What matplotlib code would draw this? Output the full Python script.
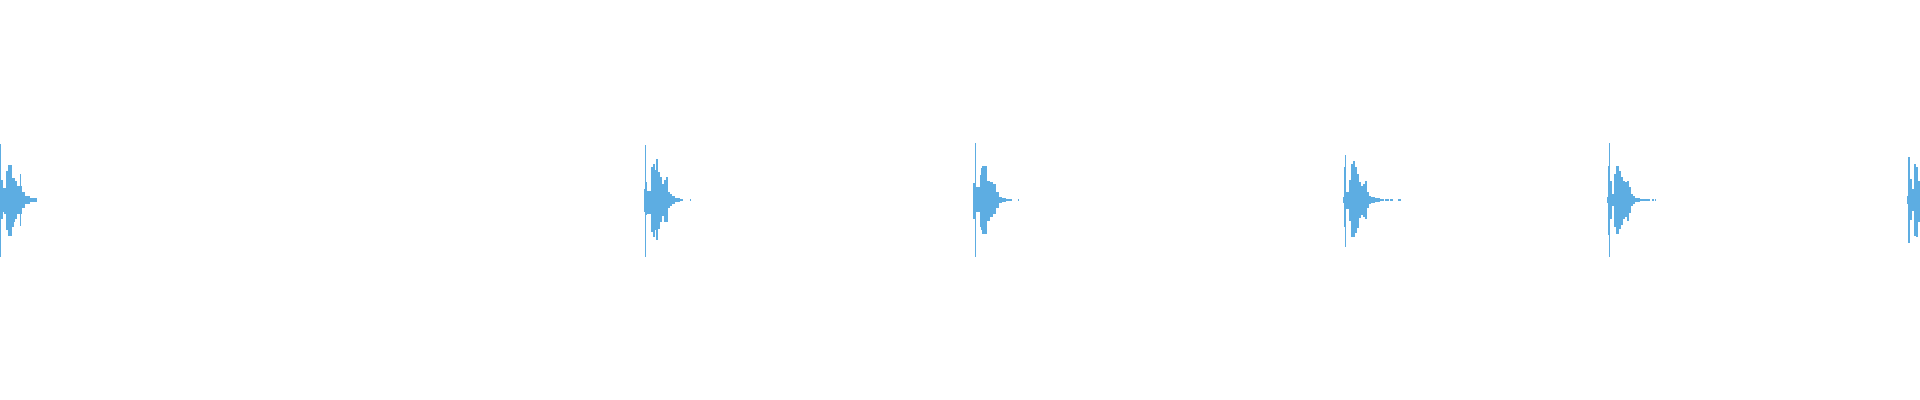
import numpy as np
import matplotlib
matplotlib.use('Agg')
import matplotlib.pyplot as plt

# waveform drawn as per-column envelope (amplitude, full scale = 1)
dt = 0.005          # seconds per column
duration = 9.6      # seconds shown

onsets = [0.000, 3.220, 4.865, 6.715, 8.035, 9.535]

b1_top = [0.28, 0.10, 0.10, 0.06, 0.06, 0.06, 0.145, 0.145, 0.175, 0.175, 0.175, 0.175,
          0.11, 0.11, 0.11, 0.095, 0.095, 0.07, 0.07, 0.07, 0.13, 0.07, 0.04, 0.04, 0.04,
          0.02, 0.02, 0.02, 0.02, 0.02, 0.008, 0.008, 0.008, 0.008, 0.008, 0.008, 0.008]
b1_bot = [0.285, 0.095, 0.095, 0.06, 0.07, 0.07, 0.15, 0.15, 0.18, 0.18, 0.18, 0.18,
          0.135, 0.135, 0.11, 0.095, 0.095, 0.07, 0.07, 0.07, 0.13, 0.07, 0.04, 0.04, 0.04,
          0.02, 0.02, 0.02, 0.02, 0.02, 0.008, 0.008, 0.008, 0.008, 0.008, 0.008, 0.008]

b2_top = [0.055, 0.275, 0.09, 0.045, 0.045, 0.045, 0.045, 0.165, 0.165, 0.18, 0.18, 0.15,
          0.205, 0.205, 0.14, 0.14, 0.115, 0.115, 0.08, 0.08, 0.10, 0.10, 0.115, 0.115,
          0.04, 0.04, 0.03, 0.03, 0.02, 0.02, 0.02, 0.01, 0.01, 0.01, 0.01, 0.01,
          0.005, 0.005, 0.005, 0, 0, 0, 0, 0, 0, 0, 0.005]
b2_bot = [0.06, 0.285, 0.075, 0.07, 0.07, 0.07, 0.07, 0.16, 0.16, 0.185, 0.185, 0.15,
          0.2, 0.2, 0.145, 0.145, 0.11, 0.11, 0.08, 0.08, 0.11, 0.11, 0.11, 0.11,
          0.04, 0.04, 0.03, 0.03, 0.02, 0.02, 0.02, 0.01, 0.01, 0.01, 0.01, 0.01,
          0.005, 0.005, 0.005, 0, 0, 0, 0, 0, 0, 0, 0.005]

b3_top = [0.085, 0.085, 0.285, 0.065, 0.065, 0.065, 0.065, 0.125, 0.16, 0.17, 0.17, 0.17,
          0.17, 0.17, 0.095, 0.095, 0.095, 0.09, 0.09, 0.09, 0.08, 0.08, 0.08, 0.04, 0.04,
          0.04, 0.015, 0.015, 0.015, 0.01, 0.01, 0.01, 0.01, 0.005, 0.005, 0.005, 0.005,
          0.005, 0.005, 0, 0, 0, 0, 0, 0, 0.005]
b3_bot = [0.095, 0.095, 0.285, 0.06, 0.06, 0.06, 0.06, 0.135, 0.15, 0.17, 0.17, 0.17,
          0.17, 0.17, 0.105, 0.105, 0.105, 0.085, 0.085, 0.085, 0.07, 0.07, 0.07, 0.04, 0.04,
          0.04, 0.015, 0.015, 0.015, 0.01, 0.01, 0.01, 0.01, 0.005, 0.005, 0.005, 0.005,
          0.005, 0.005, 0, 0, 0, 0, 0, 0, 0.005]

b4_top = [0.015, 0.165, 0.225, 0.04, 0.04, 0.04, 0.10, 0.10, 0.18, 0.18, 0.195, 0.195,
          0.165, 0.165, 0.13, 0.13, 0.09, 0.09, 0.07, 0.07, 0.08, 0.08, 0.095, 0.095,
          0.04, 0.04, 0.02, 0.02, 0.015, 0.015, 0.015, 0.015, 0.008, 0.008, 0.008, 0.008,
          0.008, 0.005, 0.005, 0.005, 0.005, 0, 0.005, 0.005, 0.005, 0.005, 0, 0.005,
          0.005, 0.005, 0, 0, 0, 0, 0, 0.005, 0.005, 0.005]
b4_bot = [0.015, 0.135, 0.235, 0.045, 0.045, 0.045, 0.105, 0.105, 0.185, 0.185, 0.185, 0.185,
          0.165, 0.165, 0.14, 0.14, 0.09, 0.09, 0.075, 0.075, 0.085, 0.085, 0.095, 0.095,
          0.04, 0.04, 0.02, 0.02, 0.015, 0.015, 0.015, 0.015, 0.008, 0.008, 0.008, 0.008,
          0.008, 0.005, 0.005, 0.005, 0.005, 0, 0.005, 0.005, 0.005, 0.005, 0, 0.005,
          0.005, 0.005, 0, 0, 0, 0, 0, 0.005, 0.005, 0.005]

b5_top = [0.015, 0.17, 0.285, 0.095, 0.095, 0.03, 0.03, 0.13, 0.13, 0.17, 0.17, 0.17,
          0.145, 0.145, 0.115, 0.115, 0.095, 0.095, 0.09, 0.09, 0.095, 0.095, 0.065, 0.065,
          0.03, 0.03, 0.02, 0.02, 0.01, 0.01, 0.01, 0.01, 0.01, 0.005, 0.005, 0.005, 0.005,
          0.005, 0.005, 0.005, 0.005, 0.005, 0.005, 0, 0, 0.005, 0.005, 0, 0.005]
b5_bot = [0.015, 0.175, 0.285, 0.095, 0.095, 0.03, 0.03, 0.135, 0.135, 0.17, 0.17, 0.17,
          0.145, 0.145, 0.125, 0.125, 0.095, 0.095, 0.085, 0.085, 0.105, 0.105, 0.065, 0.065,
          0.03, 0.03, 0.02, 0.02, 0.01, 0.01, 0.01, 0.01, 0.01, 0.005, 0.005, 0.005, 0.005,
          0.005, 0.005, 0.005, 0.005, 0.005, 0.005, 0, 0, 0.005, 0.005, 0, 0.005]

b6_top = [0.02, 0.215, 0.215, 0.105, 0.105, 0.055, 0.055, 0.18, 0.18, 0.165, 0.165, 0.095, 0.095]
b6_bot = [0.02, 0.215, 0.215, 0.10, 0.10, 0.055, 0.055, 0.18, 0.18, 0.185, 0.185, 0.11, 0.11]

tops = [b1_top, b2_top, b3_top, b4_top, b5_top, b6_top]
bots = [b1_bot, b2_bot, b3_bot, b4_bot, b5_bot, b6_bot]

wave_color = '#5dade2'

fig = plt.figure(figsize=(19.2, 4), dpi=100)
ax = fig.add_axes([0, 0, 1, 1])

for t0, top, bot in zip(onsets, tops, bots):
    n = len(top)
    t = t0 + dt * np.arange(n + 1)
    hi = np.append(top, top[-1])
    lo = -np.append(bot, bot[-1])
    ax.fill_between(t, lo, hi, step='post', color=wave_color, linewidth=0)

ax.set_xlim(0, duration)
ax.set_ylim(-1, 1)
ax.axis('off')

fig.savefig('out.png', dpi=100, facecolor='white')
